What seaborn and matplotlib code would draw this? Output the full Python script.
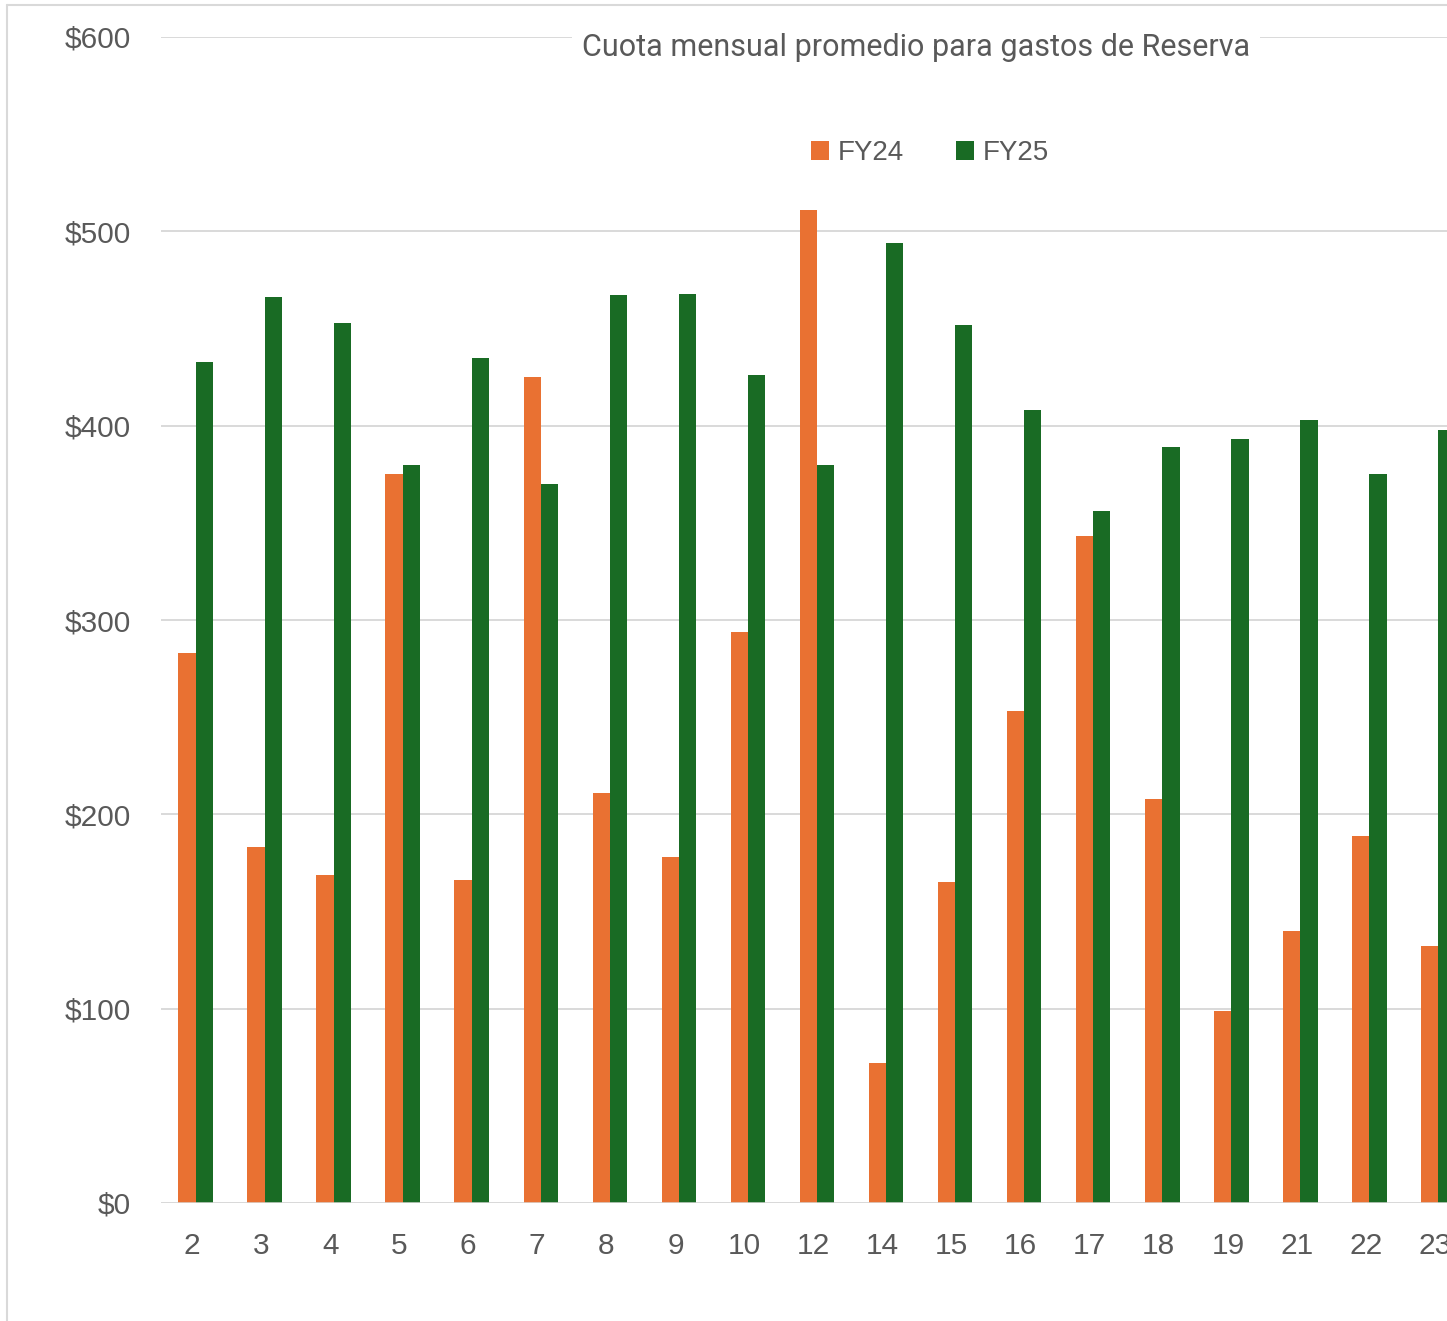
import matplotlib
matplotlib.use('Agg')
import matplotlib.pyplot as plt
import matplotlib.transforms as mtransforms
import seaborn as sns
import pandas as pd
from matplotlib.lines import Line2D

categories = ['2', '3', '4', '5', '6', '7', '8', '9', '10', '12', '14', '15',
              '16', '17', '18', '19', '21', '22', '23']
fy24 = [283, 183, 169, 375, 166, 425, 211, 178, 294, 511, 72, 165,
        253, 343, 208, 99, 140, 189, 132]
fy25 = [433, 466, 453, 380, 435, 370, 467, 468, 426, 380, 494, 452,
        408, 356, 389, 393, 403, 375, 398]
series = ['FY24', 'FY25']
colors = ['#E97132', '#196B24']
yticks = [0, 100, 200, 300, 400, 500, 600]
ytick_labels = ['$0', '$100', '$200', '$300', '$400', '$500', '$600']
title = 'Cuota mensual promedio para gastos de Reserva'

df = pd.DataFrame({
    'Distrito': categories * 2,
    'Serie': [series[0]] * len(categories) + [series[1]] * len(categories),
    'Valor': fy24 + fy25,
})

sns.set_theme(style='white')
plt.rcParams['font.family'] = ['Liberation Sans', 'DejaVu Sans']

W, H = 1447, 1321
fig = plt.figure(figsize=(W / 100, H / 100), dpi=100)
ax = fig.add_axes([161 / W, 118 / H, 1312 / W, 1166 / H])

sns.barplot(data=df, x='Distrito', y='Valor', hue='Serie', order=categories,
            hue_order=series, palette=colors, width=0.5, gap=0, saturation=1,
            errorbar=None, edgecolor='none', ax=ax, legend=True)

ax.set_xlim(-0.5, len(categories) - 0.5)
ax.set_ylim(0, 600)
ax.set_yticks(yticks)
ax.set_yticklabels(ytick_labels)
ax.set_xlabel('')
ax.set_ylabel('')
for s in ax.spines.values():
    s.set_visible(False)
ax.yaxis.grid(True, color='#D9D9D9', linewidth=1.4)
ax.set_axisbelow(True)
ax.axhline(0, color='#D9D9D9', linewidth=1.8, zorder=3)
ax.tick_params(axis='y', length=0, pad=22, labelsize=21.5, labelcolor='#595959')
ax.tick_params(axis='x', length=0, pad=21, labelsize=21.5, labelcolor='#595959')
shift = mtransforms.ScaledTranslation(-3.5 / 100, 0, fig.dpi_scale_trans)
for lbl in ax.get_xticklabels():
    lbl.set_transform(lbl.get_transform() + shift)

handles, labels = ax.get_legend_handles_labels()
ax.legend(handles, labels, loc='center', bbox_to_anchor=(930 / W, 1 - 153 / H),
          bbox_transform=fig.transFigure, ncol=2, frameon=False, fontsize=20,
          handlelength=0.65, handleheight=0.65, handletextpad=0.3,
          columnspacing=1.9, labelcolor='#595959')

fig.text(916 / W, 1 - 47 / H, title, ha='center', va='center', fontsize=22,
         color='#595959', family=['Roboto', 'DejaVu Sans'],
         bbox=dict(facecolor='white', edgecolor='none', pad=7))

fig.add_artist(Line2D([7 / W, 7 / W], [0, 1 - 5 / H], color='#D9D9D9', linewidth=1.5))
fig.add_artist(Line2D([7 / W, 1], [1 - 5 / H, 1 - 5 / H], color='#D9D9D9', linewidth=1.5))

fig.savefig('out.png', dpi=100, facecolor='white')
